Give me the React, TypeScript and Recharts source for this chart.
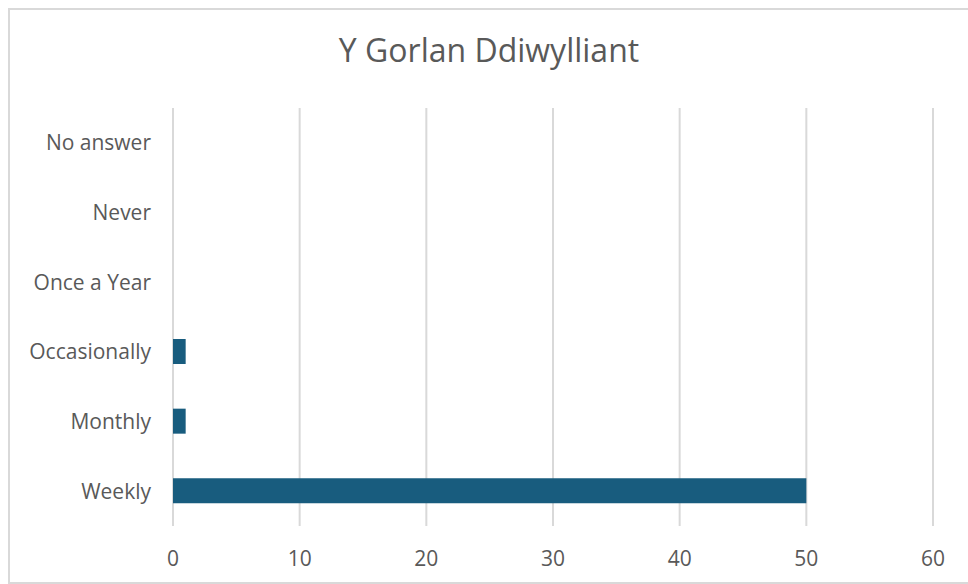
import { Bar, BarChart, CartesianGrid, XAxis, YAxis } from "recharts"

const categories = ["No answer", "Never", "Once a Year", "Occasionally", "Monthly", "Weekly"]
const responses = [0, 0, 0, 1, 1, 50]
const xTicks = [0, 10, 20, 30, 40, 50, 60]

const data = categories.map((name, i) => ({ name, count: responses[i] }))

const FONT = "'Open Sans', sans-serif"

export default function App() {
    return (
        // fixed so the box can run to the page's bottom edge without a scrollbar
        <div style={{ position: "fixed", top: 8, left: 8, width: 960, height: 576, overflow: "hidden" }}>
            <div
                style={{
                    position: "relative",
                    width: 1000,
                    height: 572,
                    borderTop: "2px solid #d9d9d9",
                    borderLeft: "2px solid #d9d9d9",
                    borderBottom: "2px solid #d9d9d9",
                    background: "#fff",
                    fontFamily: FONT,
                }}
            >
                <div
                    style={{
                        position: "absolute",
                        top: 22,
                        left: 0,
                        width: 958,
                        textAlign: "center",
                        fontSize: 32,
                        lineHeight: "36px",
                        color: "#595959",
                    }}
                >
                    Y Gorlan Ddiwylliant
                </div>
                <BarChart
                    width={958}
                    height={572}
                    data={data}
                    layout="vertical"
                    margin={{ top: 98, right: 35, left: 0, bottom: 0 }}
                >
                    <CartesianGrid horizontal={false} stroke="#d9d9d9" strokeWidth={2} />
                    <XAxis
                        type="number"
                        domain={[0, 60]}
                        ticks={xTicks}
                        height={56}
                        axisLine={false}
                        tickLine={false}
                        tickSize={0}
                        tickMargin={25}
                        tick={{ fill: "#595959", fontSize: 21, fontFamily: FONT }}
                    />
                    <YAxis
                        type="category"
                        dataKey="name"
                        width={163}
                        axisLine={false}
                        tickLine={false}
                        tickSize={0}
                        tickMargin={22}
                        tick={{ fill: "#595959", fontSize: 21, fontFamily: FONT }}
                    />
                    <Bar dataKey="count" fill="#185c7e" barSize={25} isAnimationActive={false} />
                </BarChart>
            </div>
        </div>
    )
}
